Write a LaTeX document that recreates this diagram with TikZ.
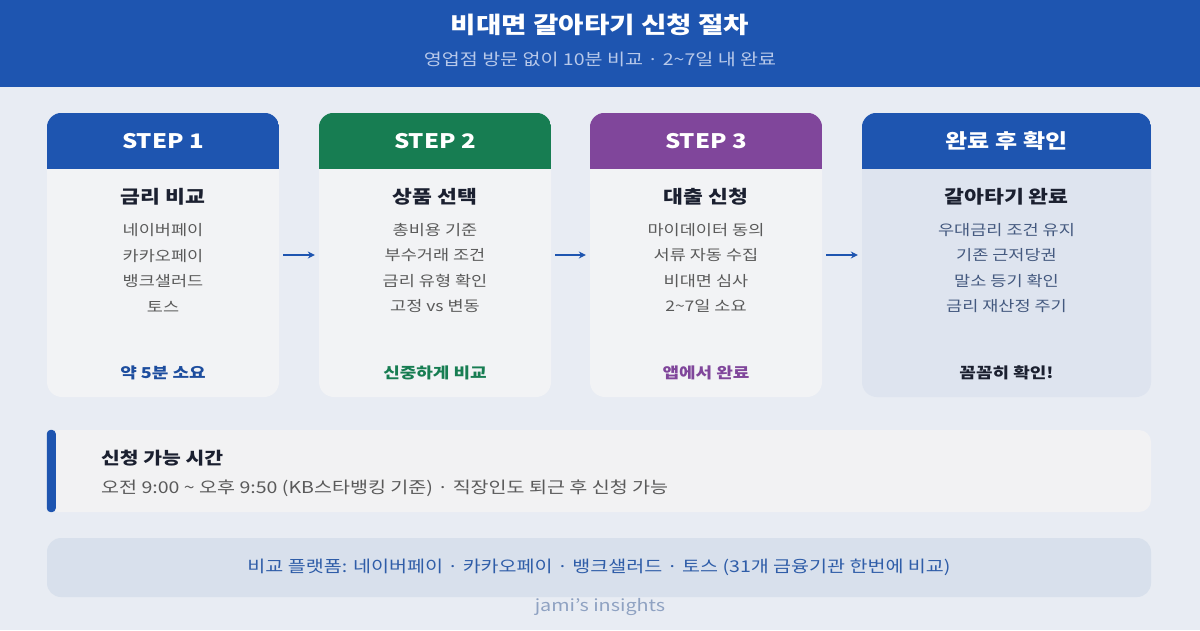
\documentclass[tikz,border=0pt]{standalone}
\usepackage{fontspec}
\setmainfont{Noto Sans CJK KR}[FakeStretch=1.2]
\usetikzlibrary{arrows.meta,calc,positioning}
\definecolor{pageBg}{HTML}{E8ECF3}
\definecolor{bandBlue}{HTML}{1E55B0}
\definecolor{stepGreen}{HTML}{177D52}
\definecolor{stepPurple}{HTML}{80469B}
\definecolor{bodyGray}{HTML}{F2F3F5}
\definecolor{doneBody}{HTML}{DEE4EF}
\definecolor{infoGray}{HTML}{F2F2F3}
\definecolor{platBox}{HTML}{D8E0EC}
\definecolor{itemGray}{HTML}{5A5A5A}
\definecolor{doneItem}{HTML}{44597F}
\definecolor{headDark}{HTML}{1B2030}
\definecolor{subBlue}{HTML}{B8C9EA}
\definecolor{platText}{HTML}{2F5DA8}
\definecolor{signGray}{HTML}{8FA2C2}
\definecolor{footBlue}{HTML}{1D4D9E}
\newcommand{\fsz}[2]{\fontsize{#1}{#2}\selectfont}
\newcommand{\cardtop}[2]{%
  \begin{scope}
    \clip[rounded corners=15pt] (#1.north west) rectangle (#1.south east);
    \fill[#2] (#1.north west) rectangle ([yshift=-56pt]#1.north east);
  \end{scope}}
\tikzset{
  card/.style={fill=bodyGray,rounded corners=15pt,minimum width=232pt,minimum height=284pt,inner sep=0pt},
  steptitle/.style={text=white,font=\fsz{20}{24}\bfseries},
  cardhead/.style={text=headDark,font=\fsz{18}{21}\bfseries},
  itemlist/.style={text=itemGray,align=center,font=\fsz{14.6}{25.4}},
  cardfoot/.style={font=\fsz{15}{18}\bfseries},
  flow/.style={-{Stealth[length=7pt,width=7pt]},draw=bandBlue,line width=1.6pt,shorten <=4pt,shorten >=4pt},
}

\begin{document}
\begin{tikzpicture}[x=1pt,y=-1pt,every node/.style={inner sep=0pt}]
\useasboundingbox[fill=pageBg] (0,0) rectangle (1200,630);
% header band
\fill[bandBlue] (0,0) rectangle (1200,87);
\node[text=white,font=\fsz{23}{27}\bfseries] (title) at (600,25) {비대면 갈아타기 신청 절차};
\node[text=subBlue,font=\fsz{16.3}{19}] (subtitle) at (600,59) {영업점 방문 없이 10분 비교 · 2\textasciitilde7일 내 완료};

% cards
\node[card] (c1) at (163,255) {};
\node[card] (c2) at (435,255) {};
\node[card] (c3) at (706,255) {};
\node[card,fill=doneBody,minimum width=289pt] (c4) at (1006.5,255) {};
\cardtop{c1}{bandBlue}
\cardtop{c2}{stepGreen}
\cardtop{c3}{stepPurple}
\cardtop{c4}{bandBlue}

\node[steptitle] (s1) at (163,141) {STEP 1};
\node[steptitle] (s2) at (435,141) {STEP 2};
\node[steptitle] (s3) at (706,141) {STEP 3};
\node[steptitle] (s4) at (1006.5,141) {완료 후 확인};

\node[cardhead] (h1) at (163,197) {금리 비교};
\node[cardhead] (h2) at (435,197) {상품 선택};
\node[cardhead] (h3) at (706,197) {대출 신청};
\node[cardhead] (h4) at (1006.5,197) {갈아타기 완료};

\node[itemlist] (l1) at (163,268) {네이버페이\\카카오페이\\뱅크샐러드\\토스};
\node[itemlist] (l2) at (435,268) {총비용 기준\\부수거래 조건\\금리 유형 확인\\고정 vs 변동};
\node[itemlist] (l3) at (706,268) {마이데이터 동의\\서류 자동 수집\\비대면 심사\\2\textasciitilde7일 소요};
\node[itemlist,text=doneItem] (l4) at (1006.5,268) {우대금리 조건 유지\\기존 근저당권\\말소 등기 확인\\금리 재산정 주기};

\node[cardfoot,text=footBlue] (f1) at (163,373) {약 5분 소요};
\node[cardfoot,text=stepGreen] (f2) at (435,373) {신중하게 비교};
\node[cardfoot,text=stepPurple] (f3) at (706,373) {앱에서 완료};
\node[cardfoot,text=headDark] (f4) at (1006.5,373) {꼼꼼히 확인!};

\draw[flow] (c1.east) -- (c2.west);
\draw[flow] (c2.east) -- (c3.west);
\draw[flow] (c3.east) -- (c4.west);

% application hours
\node[fill=infoGray,rounded corners=12pt,minimum width=1104pt,minimum height=82pt] (info) at (599,471) {};
\fill[bandBlue,rounded corners=4pt] (info.north west) rectangle ([xshift=9pt]info.south west);
\node[anchor=west,text=headDark,font=\fsz{17}{20}\bfseries] (infot) at (101,458) {신청 가능 시간};
\node[anchor=west,text=itemGray,font=\fsz{16.3}{19}] (infol) at (101,488)
  {오전 9:00 \textasciitilde{} 오후 9:50 (KB스타뱅킹 기준) · 직장인도 퇴근 후 신청 가능};

% platforms
\node[fill=platBox,rounded corners=14pt,minimum width=1104pt,minimum height=59pt,
  text=platText,font=\fsz{16.3}{19}] (plat) at (599,567.5)
  {비교 플랫폼: 네이버페이 · 카카오페이 · 뱅크샐러드 · 토스 (31개 금융기관 한번에 비교)};
\node[text=signGray,font=\fsz{16.5}{19}] (sign) at (600,607) {jami's insights};
\end{tikzpicture}
\end{document}
